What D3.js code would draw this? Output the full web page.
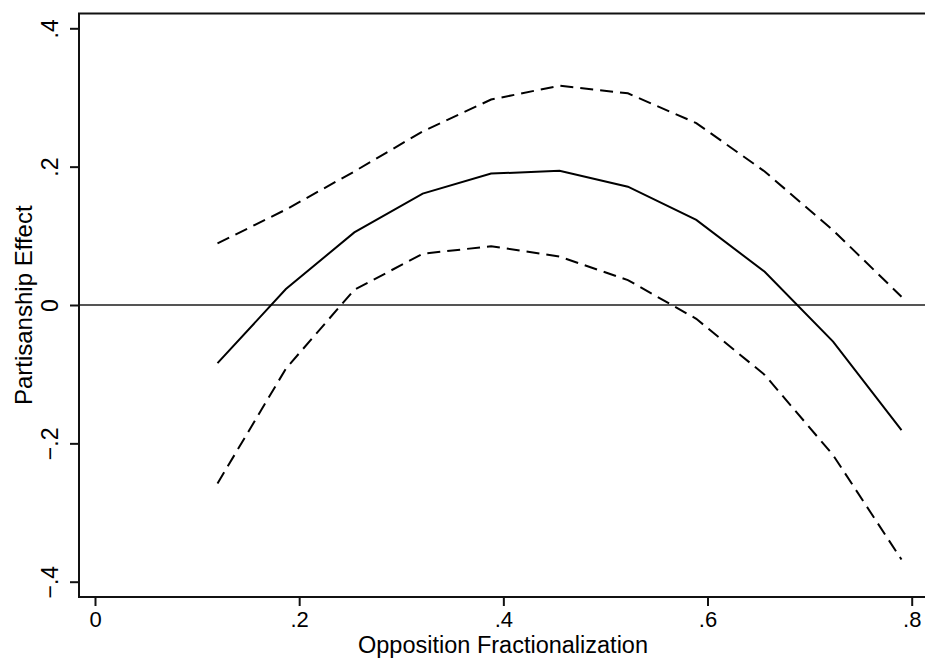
<!DOCTYPE html>
<html>
<head>
<meta charset="utf-8">
<script src="https://cdn.jsdelivr.net/npm/d3@7"></script>
<style>
  html, body { margin: 0; padding: 0; background: #fff; }
  svg { display: block; }
  text { font-family: "Liberation Sans", Arial, Helvetica, sans-serif; fill: #000; }
</style>
</head>
<body>
<svg id="chart" width="925" height="663"></svg>
<script>
// ---- data ----
const xValues  = [0.120, 0.187, 0.254, 0.321, 0.388, 0.455, 0.522, 0.589, 0.656, 0.723, 0.790];
const estimate = [-0.084, 0.023, 0.105, 0.161, 0.190, 0.194, 0.171, 0.123, 0.048, -0.053, -0.181];
const upperCI  = [0.089, 0.138, 0.193, 0.251, 0.297, 0.317, 0.306, 0.263, 0.193, 0.108, 0.012];
const lowerCI  = [-0.258, -0.092, 0.022, 0.074, 0.085, 0.070, 0.036, -0.020, -0.101, -0.217, -0.368];
const xTicks = [0, 0.2, 0.4, 0.6, 0.8];
const xTickLabels = ["0", ".2", ".4", ".6", ".8"];
const yTicks = [-0.4, -0.2, 0, 0.2, 0.4];
const yTickLabels = ["\u2212.4", "\u2212.2", "0", ".2", ".4"];
const xTitle = "Opposition Fractionalization";
const yTitle = "Partisanship Effect";

// ---- layout ----
const svg = d3.select("#chart");
const plot = { left: 79, top: 13.5, right: 927, bottom: 597 };
const x = d3.scaleLinear().domain([0, 0.8]).range([95, 911.7]);
const y = d3.scaleLinear().domain([-0.4, 0.4]).range([581.7, 28.3]);

// zero reference line
svg.append("line")
  .attr("x1", plot.left).attr("x2", plot.right)
  .attr("y1", y(0)).attr("y2", y(0))
  .attr("stroke", "#555").attr("stroke-width", 2);

// series
const line = d3.line().x((d, i) => x(xValues[i])).y(d => y(d));
svg.append("path").datum(upperCI).attr("d", line)
  .attr("fill", "none").attr("stroke", "#000").attr("stroke-width", 2)
  .attr("stroke-dasharray", "13,7");
svg.append("path").datum(lowerCI).attr("d", line)
  .attr("fill", "none").attr("stroke", "#000").attr("stroke-width", 2)
  .attr("stroke-dasharray", "13,7");
svg.append("path").datum(estimate).attr("d", line)
  .attr("fill", "none").attr("stroke", "#000").attr("stroke-width", 2);

// frame
svg.append("path")
  .attr("d", `M${plot.right},${plot.top}H${plot.left}V${plot.bottom}H${plot.right}`)
  .attr("fill", "none").attr("stroke", "#111").attr("stroke-width", 2);

// x axis
const xAxis = d3.axisBottom(x).tickValues(xTicks).tickSize(9)
  .tickFormat((d, i) => xTickLabels[i]);
const gx = svg.append("g").attr("transform", `translate(0,${plot.bottom})`).call(xAxis);
gx.select(".domain").remove();
gx.selectAll(".tick line").attr("stroke", "#111").attr("stroke-width", 2);
gx.selectAll(".tick text").attr("font-size", 22).attr("dy", null).attr("y", 30)
  .style("font-family", "'Liberation Sans', Arial, sans-serif").attr("fill", "#000");

// y axis
const yAxis = d3.axisLeft(y).tickValues(yTicks).tickSize(9)
  .tickFormat((d, i) => yTickLabels[i]);
const gy = svg.append("g").attr("transform", `translate(${plot.left},0)`).call(yAxis);
gy.select(".domain").remove();
gy.selectAll(".tick line").attr("stroke", "#111").attr("stroke-width", 2);
gy.selectAll(".tick text")
  .attr("font-size", 23).attr("dy", null).attr("x", null)
  .attr("text-anchor", "middle")
  .attr("transform", "translate(-21,0) rotate(-90)")
  .style("font-family", "'Liberation Sans', Arial, sans-serif").attr("fill", "#000");

// titles
svg.append("text").attr("x", (plot.left + plot.right) / 2).attr("y", 653)
  .attr("text-anchor", "middle").attr("font-size", 23.5).text(xTitle);
svg.append("text")
  .attr("transform", `translate(32,${(plot.top + plot.bottom) / 2}) rotate(-90)`)
  .attr("text-anchor", "middle").attr("font-size", 24).text(yTitle);
</script>
</body>
</html>
